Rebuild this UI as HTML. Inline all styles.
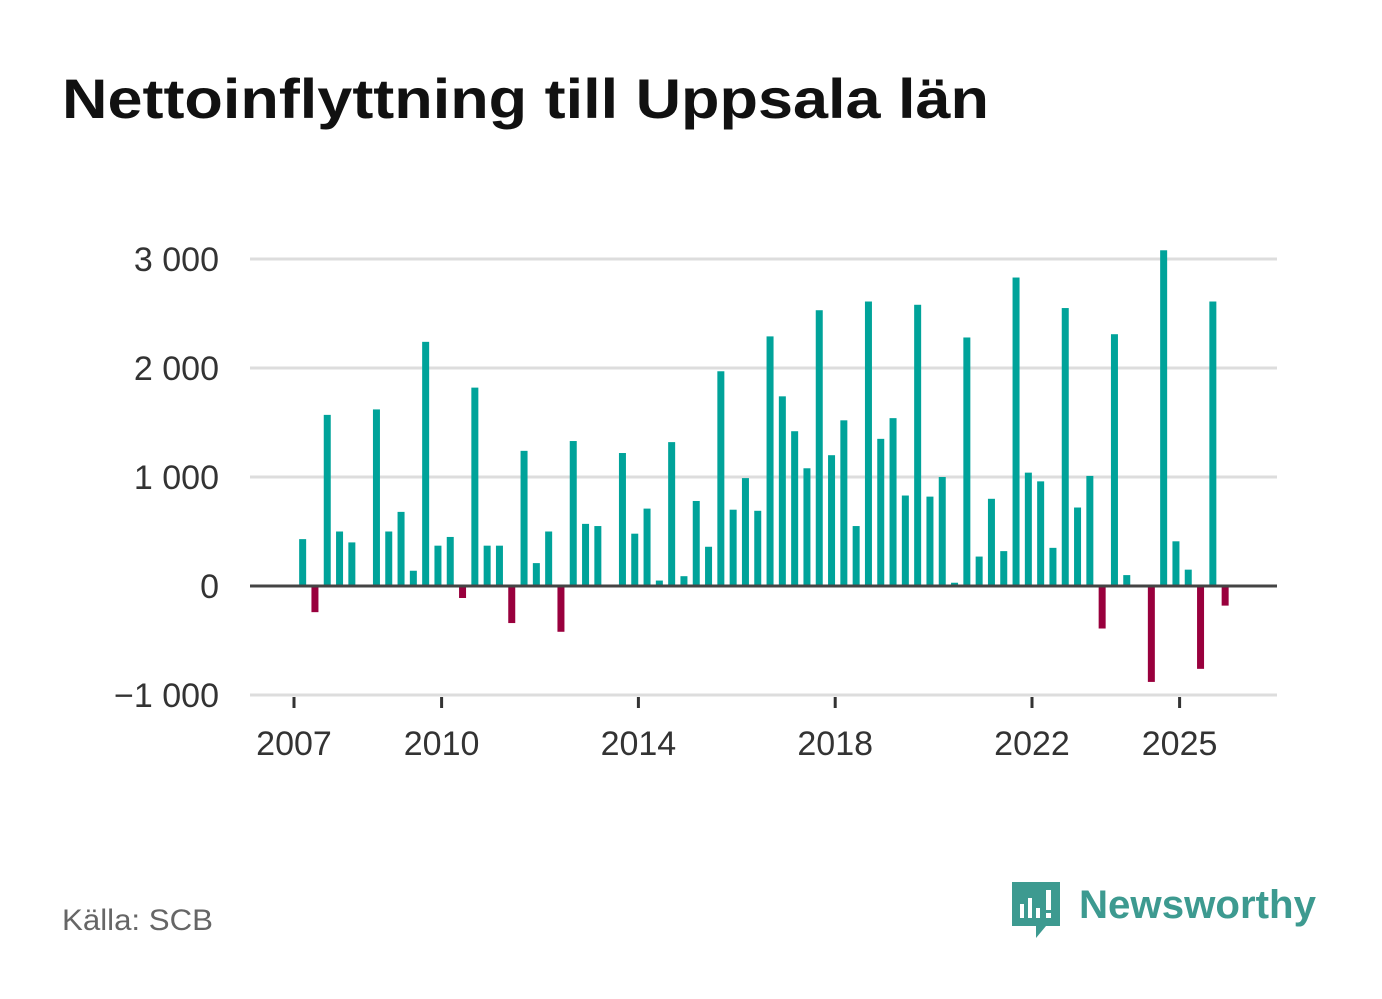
<!DOCTYPE html>
<html><head><meta charset="utf-8"><style>
body{margin:0;background:#fff;font-family:"Liberation Sans",sans-serif;}
#wrap{position:relative;width:1382px;height:999px;overflow:hidden;}
</style></head><body>
<div id="wrap">
<svg id="chart" width="1382" height="999">
<text x="62" y="118" font-size="56" font-weight="bold" fill="#111" textLength="927" lengthAdjust="spacingAndGlyphs">Nettoinflyttning till Uppsala län</text>
<g id="grid"></g>
<g id="bars"></g>
<g id="axes"></g>
<text x="62" y="930" font-size="30" fill="#666" textLength="151" lengthAdjust="spacingAndGlyphs">Källa: SCB</text>
<g>
<path d="M1012 882 h48 v44 h-14 l-10 12 v-12 h-24 z" fill="#3d9a90"/>
<rect x="1020" y="904" width="4" height="14" fill="#fff"/><rect x="1028" y="898" width="4" height="20" fill="#fff"/><rect x="1036" y="908" width="4" height="10" fill="#fff"/><rect x="1046" y="890" width="5" height="20" fill="#fff"/><rect x="1046" y="913" width="5" height="5" fill="#fff"/>
<text x="1079" y="918" font-size="40" font-weight="bold" fill="#3d9a90" textLength="237" lengthAdjust="spacingAndGlyphs">Newsworthy</text>
</g>
</svg>
</div>
<script>
const values=[430,-240,1570,500,400,0,1620,500,680,140,2240,370,450,-110,1820,370,370,-340,1240,210,500,-420,1330,570,550,0,1220,480,710,50,1320,90,780,360,1970,700,990,690,2290,1740,1420,1080,2530,1200,1520,550,2610,1350,1540,830,2580,820,1000,30,2280,270,800,320,2830,1040,960,350,2550,720,1010,-390,2310,100,0,-880,3080,410,150,-760,2610,-180];
const startYear=2007;
const yTicks=[-1000,0,1000,2000,3000];
const yTickLabels=["−1 000","0","1 000","2 000","3 000"];
const xTicks=[2007,2010,2014,2018,2022,2025];
const ns="http://www.w3.org/2000/svg";
function y(v){return 586-v*0.109;}
function x(t){return 294+(t-2007)*49.2;}
function mk(tag,attrs,parent){const e=document.createElementNS(ns,tag);for(const k in attrs)e.setAttribute(k,attrs[k]);parent.appendChild(e);return e;}
const grid=document.getElementById('grid'),bars=document.getElementById('bars'),axes=document.getElementById('axes');
yTicks.forEach((v,i)=>{
  if(v!==0){const l=mk('line',{x1:250,x2:1277,y1:y(v),y2:y(v),stroke:'#ddd','stroke-width':3},grid);
  
  }
  const t=mk('text',{x:219,y:y(v)+12,'font-size':34,fill:'#333','text-anchor':'end'},axes);
  t.textContent=yTickLabels[i];
  
  
});
values.forEach((v,i)=>{
  if(v===0)return;
  const cx=x(startYear+(i+0.5)/4)+2.5;
  const top=v>0?y(v):y(0),h=Math.abs(y(v)-y(0));
  const r=mk('rect',{x:cx-3.5,y:top,width:7,height:h,fill:v>0?'#00a39a':'#99003d'},bars);
  
  
});
const z=mk('line',{x1:250,x2:1277,y1:y(0),y2:y(0),stroke:'#444','stroke-width':3},axes);


xTicks.forEach(t=>{
  const l=mk('line',{x1:x(t),x2:x(t),y1:697,y2:708,stroke:'#333','stroke-width':3},axes);
  
  
  const tx=mk('text',{x:x(t),y:755,'font-size':34,fill:'#333','text-anchor':'middle'},axes);
  tx.textContent=t;
  
  
});
</script>
</body></html>
